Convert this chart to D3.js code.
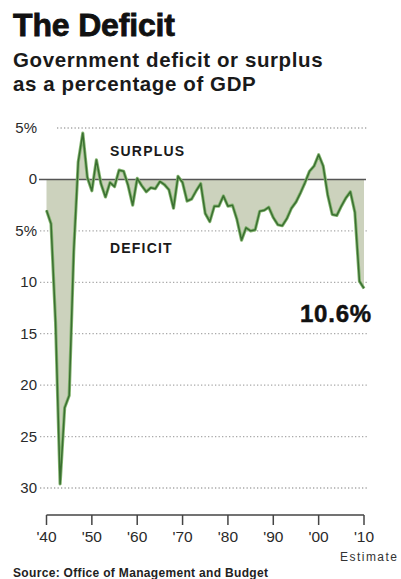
<!DOCTYPE html>
<html>
<head>
<meta charset="utf-8">
<script src="https://cdn.jsdelivr.net/npm/d3@7"></script>
<style>
  body { margin: 0; background: #fff; }
  svg { display: block; font-family: "Liberation Sans", Arial, sans-serif; }
</style>
</head>
<body>
<div id="chart"></div>
<script>
// fiscal years and surplus(+)/deficit(-) as % of GDP, 2010 is an estimate
const years = d3.range(1940, 2011);
const balance = [
  -3.0, -4.3, -13.9, -29.6, -22.2, -21.0, -7.0, 1.7, 4.5, 0.2,
  -1.1, 1.9, -0.4, -1.7, -0.3, -0.7, 0.9, 0.8, -0.6, -2.5,
  0.1, -0.6, -1.2, -0.8, -0.9, -0.2, -0.5, -1.0, -2.8, 0.3,
  -0.3, -2.1, -1.9, -1.1, -0.4, -3.3, -4.1, -2.6, -2.6, -1.6,
  -2.6, -2.5, -3.9, -5.9, -4.7, -5.0, -4.9, -3.1, -3.0, -2.7,
  -3.7, -4.4, -4.5, -3.8, -2.8, -2.2, -1.3, -0.3, 0.8, 1.3,
  2.4, 1.3, -1.5, -3.4, -3.5, -2.6, -1.8, -1.2, -3.2, -9.9,
  -10.6
];
const yTicks = [5, 0, -5, -10, -15, -20, -25, -30];
const yTickLabels = ["5%", "0", "5%", "10", "15", "20", "25", "30"];
const xTicks = [1940, 1950, 1960, 1970, 1980, 1990, 2000, 2010];
const xTickLabels = ["'40", "'50", "'60", "'70", "'80", "'90", "'00", "'10"];

const width = 401, height = 579;
const data = years.map((yr, i) => ({year: yr, value: balance[i]}));

const svg = d3.select("#chart").append("svg")
  .attr("width", width)
  .attr("height", height);

const x = d3.scaleLinear().domain([1940, 2010]).range([46.5, 364]);
const y = d3.scaleLinear().domain([5, -30]).range([128, 488]);

// titles
svg.append("text")
  .attr("x", 13).attr("y", 36)
  .attr("textLength", 162)
  .style("font-size", "32px").style("font-weight", "bold")
  .style("fill", "#111").style("stroke", "#111").style("stroke-width", 0.8)
  .text("The Deficit");
svg.append("text")
  .attr("x", 13).attr("y", 67)
  .style("font-size", "20.5px").style("font-weight", "bold")
  .style("letter-spacing", "0.6px")
  .style("fill", "#1a1a1a")
  .text("Government deficit or surplus");
svg.append("text")
  .attr("x", 13).attr("y", 91)
  .style("font-size", "20.5px").style("font-weight", "bold")
  .style("letter-spacing", "0.6px")
  .style("fill", "#1a1a1a")
  .text("as a percentage of GDP");

// dotted gridlines
svg.selectAll(".grid")
  .data(yTicks.filter(d => d !== 0))
  .enter().append("line")
  .attr("class", "grid")
  .attr("x1", d => d === 5 ? 57 : 40)
  .attr("x2", 367)
  .attr("y1", d => y(d))
  .attr("y2", d => y(d))
  .attr("stroke", "#a8a8a8")
  .attr("stroke-width", 1.3)
  .attr("stroke-dasharray", "1.3,2.2");

// y labels
svg.selectAll(".ylab")
  .data(yTicks)
  .enter().append("text")
  .attr("class", "ylab")
  .attr("x", 37)
  .attr("y", d => y(d) + 5)
  .attr("text-anchor", "end")
  .style("font-size", "15px")
  .style("fill", "#2a2a2a")
  .text((d, i) => yTickLabels[i]);

// shaded area between line and zero
const area = d3.area()
  .x(d => x(d.year))
  .y0(y(0))
  .y1(d => y(d.value));
svg.append("path")
  .datum(data)
  .attr("d", area)
  .attr("fill", "#ccd2bd");

// zero line
svg.append("line")
  .attr("x1", 39).attr("x2", 366)
  .attr("y1", y(0)).attr("y2", y(0))
  .attr("stroke", "#555")
  .attr("stroke-width", 1.6);

// data line
const line = d3.line()
  .x(d => x(d.year))
  .y(d => y(d.value));
svg.append("path")
  .datum(data)
  .attr("d", line)
  .attr("fill", "none")
  .attr("stroke", "#86b672")
  .attr("stroke-width", 3.2)
  .attr("stroke-linejoin", "round");
svg.append("path")
  .datum(data)
  .attr("d", line)
  .attr("fill", "none")
  .attr("stroke", "#3a6f31")
  .attr("stroke-width", 1.5)
  .attr("stroke-linejoin", "round");

// annotations
svg.append("text")
  .attr("x", 110).attr("y", 156)
  .style("font-size", "14px").style("font-weight", "bold")
  .style("letter-spacing", "1.2px")
  .style("fill", "#1a1a1a")
  .text("SURPLUS");
svg.append("text")
  .attr("x", 110).attr("y", 253)
  .style("font-size", "14px").style("font-weight", "bold")
  .style("letter-spacing", "1.2px")
  .style("fill", "#1a1a1a")
  .text("DEFICIT");
svg.append("text")
  .attr("x", 372).attr("y", 322)
  .attr("text-anchor", "end")
  .style("font-size", "24px").style("font-weight", "bold")
  .style("letter-spacing", "0.8px")
  .style("fill", "#111").style("stroke", "#111").style("stroke-width", 0.5)
  .text("10.6%");

// x axis
const xAxis = svg.append("g");
xAxis.append("line")
  .attr("x1", x(1940)).attr("x2", x(2010))
  .attr("y1", 515).attr("y2", 515)
  .attr("stroke", "#444").attr("stroke-width", 1.5);
xAxis.selectAll(".tick")
  .data(xTicks)
  .enter().append("line")
  .attr("x1", d => x(d)).attr("x2", d => x(d))
  .attr("y1", 515).attr("y2", 525)
  .attr("stroke", "#444").attr("stroke-width", 1.5);
xAxis.selectAll(".xlab")
  .data(xTicks)
  .enter().append("text")
  .attr("x", d => x(d))
  .attr("y", 542)
  .attr("text-anchor", "middle")
  .style("font-size", "15.5px")
  .style("fill", "#2a2a2a")
  .text((d, i) => xTickLabels[i]);

svg.append("text")
  .attr("x", 340).attr("y", 561)
  .attr("textLength", 57)
  .style("font-size", "12px")
  .style("fill", "#333")
  .text("Estimate");

svg.append("text")
  .attr("x", 13).attr("y", 577)
  .attr("textLength", 255)
  .style("font-size", "12px").style("font-weight", "bold")
  .style("fill", "#222")
  .text("Source: Office of Management and Budget");
</script>
</body>
</html>
